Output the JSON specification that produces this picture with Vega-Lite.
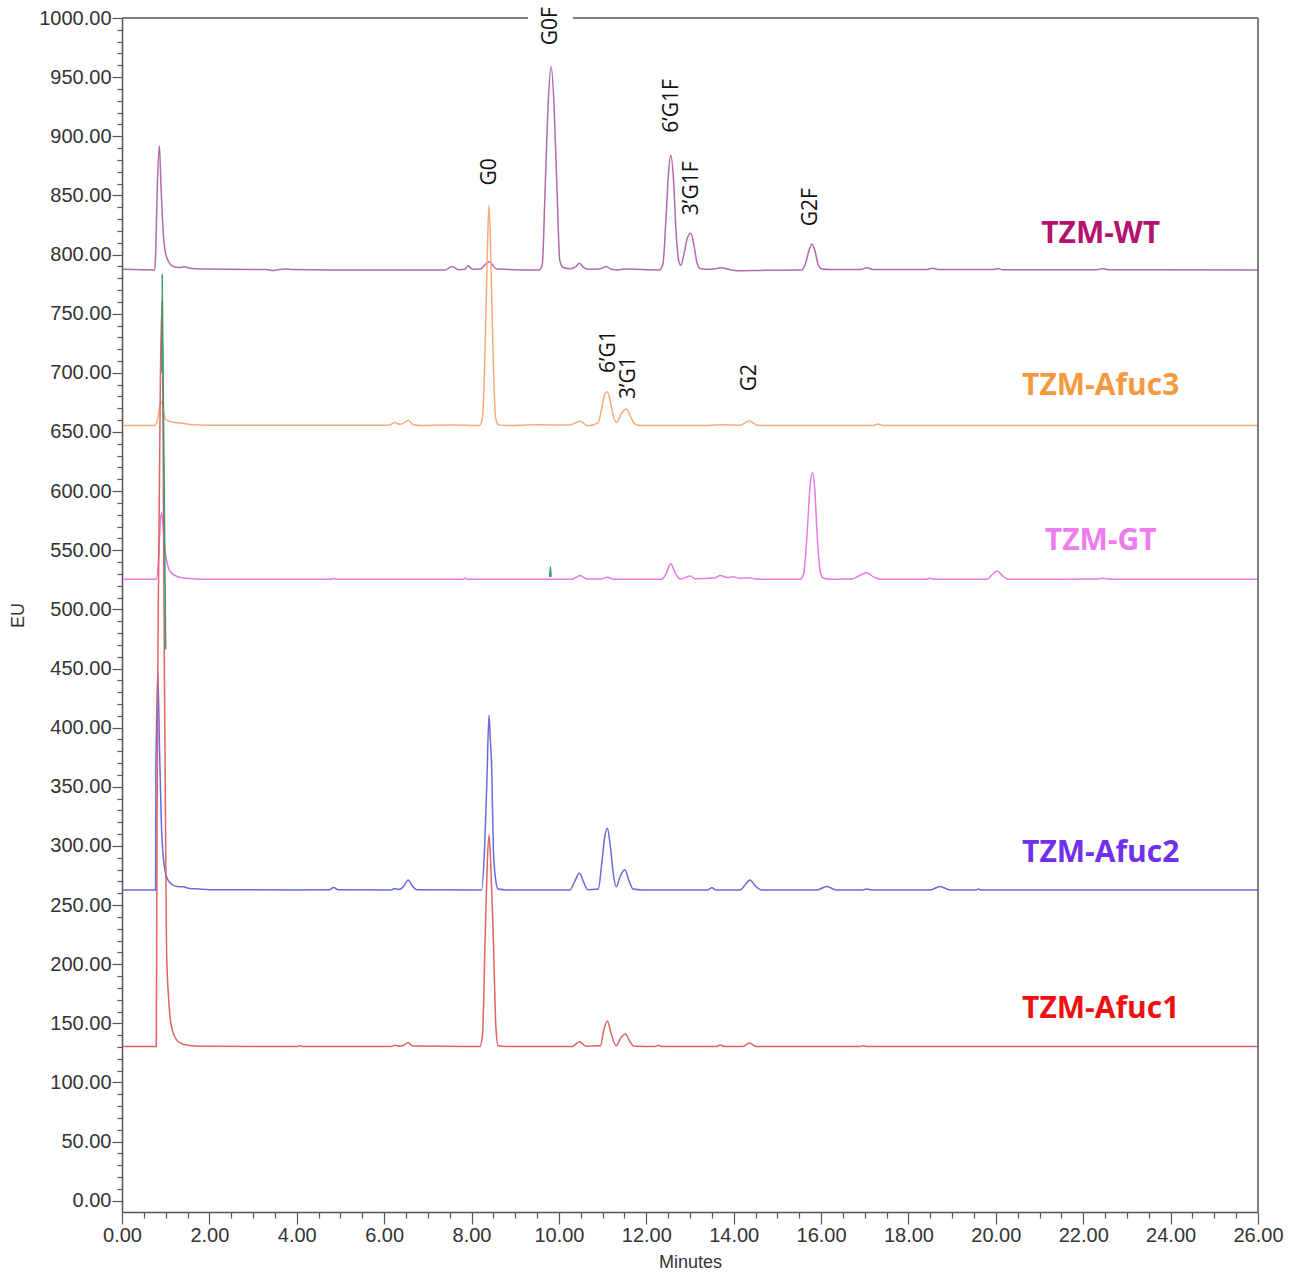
{
  "$schema": "https://vega.github.io/schema/vega-lite/v6.json",
  "width": 1136,
  "height": 1194,
  "autosize": {"type": "none"},
  "padding": {"left": 122, "top": 18, "right": 38, "bottom": 60},
  "background": "white",
  "config": {
    "view": {"stroke": null},
    "axis": {
      "domainColor": "#555555",
      "domainWidth": 1.5,
      "tickColor": "#555555",
      "tickWidth": 1.2,
      "labelColor": "#333333",
      "labelFont": "Liberation Sans",
      "labelFontSize": 20,
      "titleFont": "Liberation Sans",
      "titleFontSize": 18,
      "titleFontWeight": "normal",
      "titleColor": "#333333",
      "grid": false,
      "labelOverlap": false,
      "labelFlush": false
    }
  },
  "datasets": {
    "traces": [
      {"trace":"TZM-WT","t":0.03,"eu":787.5},{"trace":"TZM-WT","t":0.75,"eu":787},{"trace":"TZM-WT","t":0.77,"eu":800},{"trace":"TZM-WT","t":0.81,"eu":860},{"trace":"TZM-WT","t":0.855,"eu":892},{"trace":"TZM-WT","t":0.89,"eu":860},{"trace":"TZM-WT","t":0.945,"eu":818},{"trace":"TZM-WT","t":1.02,"eu":798},{"trace":"TZM-WT","t":1.17,"eu":790},{"trace":"TZM-WT","t":1.3,"eu":789},{"trace":"TZM-WT","t":1.42,"eu":789.6},{"trace":"TZM-WT","t":1.55,"eu":788.5},{"trace":"TZM-WT","t":1.8,"eu":787.8},{"trace":"TZM-WT","t":3.3,"eu":787.4},{"trace":"TZM-WT","t":3.45,"eu":786.5},{"trace":"TZM-WT","t":3.6,"eu":787.4},{"trace":"TZM-WT","t":3.75,"eu":787.8},{"trace":"TZM-WT","t":3.9,"eu":787.3},{"trace":"TZM-WT","t":5.0,"eu":787},{"trace":"TZM-WT","t":7.4,"eu":787},{"trace":"TZM-WT","t":7.55,"eu":789.8},{"trace":"TZM-WT","t":7.7,"eu":787.2},{"trace":"TZM-WT","t":7.85,"eu":787.5},{"trace":"TZM-WT","t":7.92,"eu":790.5},{"trace":"TZM-WT","t":8.02,"eu":787.5},{"trace":"TZM-WT","t":8.2,"eu":787.8},{"trace":"TZM-WT","t":8.4,"eu":794},{"trace":"TZM-WT","t":8.58,"eu":787.8},{"trace":"TZM-WT","t":9.55,"eu":787},{"trace":"TZM-WT","t":9.62,"eu":792},{"trace":"TZM-WT","t":9.68,"eu":850},{"trace":"TZM-WT","t":9.75,"eu":925},{"trace":"TZM-WT","t":9.82,"eu":959},{"trace":"TZM-WT","t":9.89,"eu":925},{"trace":"TZM-WT","t":9.96,"eu":850},{"trace":"TZM-WT","t":10.02,"eu":795},{"trace":"TZM-WT","t":10.1,"eu":789},{"trace":"TZM-WT","t":10.25,"eu":788},{"trace":"TZM-WT","t":10.38,"eu":789.5},{"trace":"TZM-WT","t":10.47,"eu":792.6},{"trace":"TZM-WT","t":10.57,"eu":789},{"trace":"TZM-WT","t":10.7,"eu":787.5},{"trace":"TZM-WT","t":10.95,"eu":788},{"trace":"TZM-WT","t":11.09,"eu":789.8},{"trace":"TZM-WT","t":11.2,"eu":787.5},{"trace":"TZM-WT","t":11.35,"eu":787},{"trace":"TZM-WT","t":11.5,"eu":787.8},{"trace":"TZM-WT","t":12.3,"eu":787},{"trace":"TZM-WT","t":12.38,"eu":792},{"trace":"TZM-WT","t":12.45,"eu":830},{"trace":"TZM-WT","t":12.51,"eu":870},{"trace":"TZM-WT","t":12.56,"eu":884},{"trace":"TZM-WT","t":12.62,"eu":865},{"trace":"TZM-WT","t":12.68,"eu":820},{"trace":"TZM-WT","t":12.74,"eu":795},{"trace":"TZM-WT","t":12.79,"eu":791},{"trace":"TZM-WT","t":12.86,"eu":800},{"trace":"TZM-WT","t":12.94,"eu":814},{"trace":"TZM-WT","t":13.02,"eu":818},{"trace":"TZM-WT","t":13.09,"eu":808},{"trace":"TZM-WT","t":13.16,"eu":793},{"trace":"TZM-WT","t":13.24,"eu":788},{"trace":"TZM-WT","t":13.5,"eu":787.5},{"trace":"TZM-WT","t":13.72,"eu":788.8},{"trace":"TZM-WT","t":13.9,"eu":787.3},{"trace":"TZM-WT","t":14.1,"eu":786.4},{"trace":"TZM-WT","t":14.6,"eu":786.6},{"trace":"TZM-WT","t":15.4,"eu":787},{"trace":"TZM-WT","t":15.55,"eu":787},{"trace":"TZM-WT","t":15.64,"eu":792},{"trace":"TZM-WT","t":15.72,"eu":803},{"trace":"TZM-WT","t":15.79,"eu":809},{"trace":"TZM-WT","t":15.86,"eu":803},{"trace":"TZM-WT","t":15.93,"eu":792},{"trace":"TZM-WT","t":16.0,"eu":788},{"trace":"TZM-WT","t":16.2,"eu":787.3},{"trace":"TZM-WT","t":16.9,"eu":787.4},{"trace":"TZM-WT","t":17.05,"eu":788.8},{"trace":"TZM-WT","t":17.2,"eu":787.3},{"trace":"TZM-WT","t":18.4,"eu":787.3},{"trace":"TZM-WT","t":18.55,"eu":788.4},{"trace":"TZM-WT","t":18.7,"eu":787.3},{"trace":"TZM-WT","t":19.95,"eu":787.3},{"trace":"TZM-WT","t":20.05,"eu":788.2},{"trace":"TZM-WT","t":20.15,"eu":787.2},{"trace":"TZM-WT","t":22.3,"eu":787.2},{"trace":"TZM-WT","t":22.45,"eu":788},{"trace":"TZM-WT","t":22.6,"eu":787.1},{"trace":"TZM-WT","t":26.0,"eu":787},

      {"trace":"TZM-Afuc3","t":0.03,"eu":655.5},{"trace":"TZM-Afuc3","t":0.755,"eu":655.5},{"trace":"TZM-Afuc3","t":0.82,"eu":662},{"trace":"TZM-Afuc3","t":0.87,"eu":672},{"trace":"TZM-Afuc3","t":0.91,"eu":676},{"trace":"TZM-Afuc3","t":0.96,"eu":665},{"trace":"TZM-Afuc3","t":1.02,"eu":660},{"trace":"TZM-Afuc3","t":1.15,"eu":658.5},{"trace":"TZM-Afuc3","t":1.33,"eu":657.5},{"trace":"TZM-Afuc3","t":1.6,"eu":656.2},{"trace":"TZM-Afuc3","t":2.3,"eu":655.6},{"trace":"TZM-Afuc3","t":6.1,"eu":655.6},{"trace":"TZM-Afuc3","t":6.25,"eu":658},{"trace":"TZM-Afuc3","t":6.35,"eu":656.5},{"trace":"TZM-Afuc3","t":6.45,"eu":657.5},{"trace":"TZM-Afuc3","t":6.55,"eu":660},{"trace":"TZM-Afuc3","t":6.65,"eu":656.5},{"trace":"TZM-Afuc3","t":6.8,"eu":655.5},{"trace":"TZM-Afuc3","t":7.5,"eu":655.8},{"trace":"TZM-Afuc3","t":8.18,"eu":655.5},{"trace":"TZM-Afuc3","t":8.25,"eu":662},{"trace":"TZM-Afuc3","t":8.31,"eu":720},{"trace":"TZM-Afuc3","t":8.36,"eu":800},{"trace":"TZM-Afuc3","t":8.4,"eu":842},{"trace":"TZM-Afuc3","t":8.44,"eu":800},{"trace":"TZM-Afuc3","t":8.49,"eu":720},{"trace":"TZM-Afuc3","t":8.55,"eu":662},{"trace":"TZM-Afuc3","t":8.62,"eu":656},{"trace":"TZM-Afuc3","t":8.8,"eu":655.5},{"trace":"TZM-Afuc3","t":9.5,"eu":656},{"trace":"TZM-Afuc3","t":10.25,"eu":655.8},{"trace":"TZM-Afuc3","t":10.48,"eu":659},{"trace":"TZM-Afuc3","t":10.67,"eu":655.2},{"trace":"TZM-Afuc3","t":10.9,"eu":658},{"trace":"TZM-Afuc3","t":10.98,"eu":670},{"trace":"TZM-Afuc3","t":11.05,"eu":682},{"trace":"TZM-Afuc3","t":11.11,"eu":684},{"trace":"TZM-Afuc3","t":11.17,"eu":677},{"trace":"TZM-Afuc3","t":11.24,"eu":664},{"trace":"TZM-Afuc3","t":11.32,"eu":658},{"trace":"TZM-Afuc3","t":11.42,"eu":665},{"trace":"TZM-Afuc3","t":11.54,"eu":669.5},{"trace":"TZM-Afuc3","t":11.64,"eu":663},{"trace":"TZM-Afuc3","t":11.72,"eu":657.5},{"trace":"TZM-Afuc3","t":11.85,"eu":655.5},{"trace":"TZM-Afuc3","t":13.2,"eu":655.5},{"trace":"TZM-Afuc3","t":13.8,"eu":656},{"trace":"TZM-Afuc3","t":14.15,"eu":655.6},{"trace":"TZM-Afuc3","t":14.35,"eu":659.3},{"trace":"TZM-Afuc3","t":14.55,"eu":655.6},{"trace":"TZM-Afuc3","t":15.0,"eu":655.4},{"trace":"TZM-Afuc3","t":17.2,"eu":655.5},{"trace":"TZM-Afuc3","t":17.3,"eu":656.8},{"trace":"TZM-Afuc3","t":17.4,"eu":655.5},{"trace":"TZM-Afuc3","t":26.0,"eu":655.4},

      {"trace":"TZM-GT","t":0.03,"eu":525.5},{"trace":"TZM-GT","t":0.79,"eu":525.5},{"trace":"TZM-GT","t":0.84,"eu":545},{"trace":"TZM-GT","t":0.88,"eu":575},{"trace":"TZM-GT","t":0.91,"eu":581.6},{"trace":"TZM-GT","t":0.95,"eu":565},{"trace":"TZM-GT","t":0.985,"eu":550},{"trace":"TZM-GT","t":1.04,"eu":538},{"trace":"TZM-GT","t":1.1,"eu":532},{"trace":"TZM-GT","t":1.25,"eu":528},{"trace":"TZM-GT","t":1.4,"eu":526.6},{"trace":"TZM-GT","t":1.6,"eu":526},{"trace":"TZM-GT","t":2.0,"eu":525.5},{"trace":"TZM-GT","t":4.8,"eu":525.4},{"trace":"TZM-GT","t":4.85,"eu":526.3},{"trace":"TZM-GT","t":4.9,"eu":525.4},{"trace":"TZM-GT","t":7.8,"eu":525.5},{"trace":"TZM-GT","t":7.85,"eu":526.5},{"trace":"TZM-GT","t":7.9,"eu":525.5},{"trace":"TZM-GT","t":10.3,"eu":525.5},{"trace":"TZM-GT","t":10.48,"eu":528.6},{"trace":"TZM-GT","t":10.65,"eu":525.6},{"trace":"TZM-GT","t":10.95,"eu":525.6},{"trace":"TZM-GT","t":11.11,"eu":527.2},{"trace":"TZM-GT","t":11.25,"eu":525.5},{"trace":"TZM-GT","t":12.35,"eu":525.5},{"trace":"TZM-GT","t":12.45,"eu":530},{"trace":"TZM-GT","t":12.56,"eu":538.5},{"trace":"TZM-GT","t":12.67,"eu":530},{"trace":"TZM-GT","t":12.78,"eu":525.6},{"trace":"TZM-GT","t":12.9,"eu":527},{"trace":"TZM-GT","t":13.0,"eu":528.3},{"trace":"TZM-GT","t":13.12,"eu":526},{"trace":"TZM-GT","t":13.55,"eu":526.5},{"trace":"TZM-GT","t":13.7,"eu":528.6},{"trace":"TZM-GT","t":13.85,"eu":527},{"trace":"TZM-GT","t":13.98,"eu":527.5},{"trace":"TZM-GT","t":14.15,"eu":526.2},{"trace":"TZM-GT","t":14.35,"eu":526.8},{"trace":"TZM-GT","t":14.5,"eu":525.6},{"trace":"TZM-GT","t":15.52,"eu":525.5},{"trace":"TZM-GT","t":15.6,"eu":530},{"trace":"TZM-GT","t":15.69,"eu":570},{"trace":"TZM-GT","t":15.75,"eu":605},{"trace":"TZM-GT","t":15.8,"eu":615.7},{"trace":"TZM-GT","t":15.85,"eu":605},{"trace":"TZM-GT","t":15.9,"eu":570},{"trace":"TZM-GT","t":15.98,"eu":532},{"trace":"TZM-GT","t":16.05,"eu":526.5},{"trace":"TZM-GT","t":16.2,"eu":525.5},{"trace":"TZM-GT","t":16.7,"eu":525.6},{"trace":"TZM-GT","t":16.85,"eu":528},{"trace":"TZM-GT","t":17.04,"eu":531},{"trace":"TZM-GT","t":17.2,"eu":527.5},{"trace":"TZM-GT","t":17.35,"eu":525.5},{"trace":"TZM-GT","t":18.4,"eu":525.5},{"trace":"TZM-GT","t":18.5,"eu":526.3},{"trace":"TZM-GT","t":18.6,"eu":525.5},{"trace":"TZM-GT","t":19.8,"eu":525.5},{"trace":"TZM-GT","t":19.92,"eu":529.5},{"trace":"TZM-GT","t":20.03,"eu":532.5},{"trace":"TZM-GT","t":20.15,"eu":528.5},{"trace":"TZM-GT","t":20.28,"eu":525.5},{"trace":"TZM-GT","t":22.3,"eu":525.6},{"trace":"TZM-GT","t":22.45,"eu":526.3},{"trace":"TZM-GT","t":22.6,"eu":525.5},{"trace":"TZM-GT","t":26.0,"eu":525.4},

      {"trace":"TZM-Afuc2","t":0.03,"eu":262.8},{"trace":"TZM-Afuc2","t":0.77,"eu":262.8},{"trace":"TZM-Afuc2","t":0.775,"eu":357},{"trace":"TZM-Afuc2","t":0.79,"eu":400},{"trace":"TZM-Afuc2","t":0.82,"eu":447},{"trace":"TZM-Afuc2","t":0.86,"eu":380},{"trace":"TZM-Afuc2","t":0.9,"eu":320},{"trace":"TZM-Afuc2","t":0.96,"eu":285},{"trace":"TZM-Afuc2","t":1.02,"eu":274},{"trace":"TZM-Afuc2","t":1.12,"eu":268},{"trace":"TZM-Afuc2","t":1.25,"eu":265.7},{"trace":"TZM-Afuc2","t":1.4,"eu":265.4},{"trace":"TZM-Afuc2","t":1.55,"eu":264},{"trace":"TZM-Afuc2","t":1.71,"eu":263.7},{"trace":"TZM-Afuc2","t":2.0,"eu":263},{"trace":"TZM-Afuc2","t":4.0,"eu":262.8},{"trace":"TZM-Afuc2","t":4.75,"eu":263},{"trace":"TZM-Afuc2","t":4.84,"eu":264.9},{"trace":"TZM-Afuc2","t":4.95,"eu":263},{"trace":"TZM-Afuc2","t":6.15,"eu":262.8},{"trace":"TZM-Afuc2","t":6.25,"eu":264},{"trace":"TZM-Afuc2","t":6.33,"eu":263.2},{"trace":"TZM-Afuc2","t":6.45,"eu":266},{"trace":"TZM-Afuc2","t":6.55,"eu":271.3},{"trace":"TZM-Afuc2","t":6.65,"eu":266},{"trace":"TZM-Afuc2","t":6.75,"eu":263},{"trace":"TZM-Afuc2","t":8.23,"eu":262.8},{"trace":"TZM-Afuc2","t":8.3,"eu":300},{"trace":"TZM-Afuc2","t":8.35,"eu":353},{"trace":"TZM-Afuc2","t":8.4,"eu":410.8},{"trace":"TZM-Afuc2","t":8.43,"eu":390},{"trace":"TZM-Afuc2","t":8.46,"eu":368.6},{"trace":"TZM-Afuc2","t":8.5,"eu":296.7},{"trace":"TZM-Afuc2","t":8.55,"eu":272},{"trace":"TZM-Afuc2","t":8.61,"eu":263.5},{"trace":"TZM-Afuc2","t":8.8,"eu":262.8},{"trace":"TZM-Afuc2","t":10.25,"eu":262.8},{"trace":"TZM-Afuc2","t":10.36,"eu":270},{"trace":"TZM-Afuc2","t":10.47,"eu":277},{"trace":"TZM-Afuc2","t":10.57,"eu":269},{"trace":"TZM-Afuc2","t":10.66,"eu":263},{"trace":"TZM-Afuc2","t":10.9,"eu":263.5},{"trace":"TZM-Afuc2","t":10.98,"eu":285},{"trace":"TZM-Afuc2","t":11.05,"eu":308},{"trace":"TZM-Afuc2","t":11.11,"eu":315},{"trace":"TZM-Afuc2","t":11.17,"eu":302},{"trace":"TZM-Afuc2","t":11.25,"eu":275},{"trace":"TZM-Afuc2","t":11.31,"eu":265.5},{"trace":"TZM-Afuc2","t":11.41,"eu":275},{"trace":"TZM-Afuc2","t":11.51,"eu":279.8},{"trace":"TZM-Afuc2","t":11.6,"eu":271},{"trace":"TZM-Afuc2","t":11.7,"eu":263.5},{"trace":"TZM-Afuc2","t":11.9,"eu":262.8},{"trace":"TZM-Afuc2","t":13.4,"eu":262.8},{"trace":"TZM-Afuc2","t":13.5,"eu":264.6},{"trace":"TZM-Afuc2","t":13.6,"eu":262.8},{"trace":"TZM-Afuc2","t":14.15,"eu":262.8},{"trace":"TZM-Afuc2","t":14.26,"eu":267},{"trace":"TZM-Afuc2","t":14.37,"eu":271.3},{"trace":"TZM-Afuc2","t":14.5,"eu":266},{"trace":"TZM-Afuc2","t":14.64,"eu":262.8},{"trace":"TZM-Afuc2","t":15.9,"eu":262.8},{"trace":"TZM-Afuc2","t":16.13,"eu":265.7},{"trace":"TZM-Afuc2","t":16.35,"eu":262.8},{"trace":"TZM-Afuc2","t":16.95,"eu":262.8},{"trace":"TZM-Afuc2","t":17.04,"eu":263.5},{"trace":"TZM-Afuc2","t":17.15,"eu":262.8},{"trace":"TZM-Afuc2","t":18.5,"eu":262.8},{"trace":"TZM-Afuc2","t":18.72,"eu":265.7},{"trace":"TZM-Afuc2","t":18.95,"eu":262.8},{"trace":"TZM-Afuc2","t":19.55,"eu":262.8},{"trace":"TZM-Afuc2","t":19.6,"eu":263.6},{"trace":"TZM-Afuc2","t":19.65,"eu":262.8},{"trace":"TZM-Afuc2","t":26.0,"eu":262.8},

      {"trace":"TZM-Afuc1","t":0.03,"eu":130.4},{"trace":"TZM-Afuc1","t":0.785,"eu":130.4},{"trace":"TZM-Afuc1","t":0.8,"eu":300},{"trace":"TZM-Afuc1","t":0.83,"eu":500},{"trace":"TZM-Afuc1","t":0.88,"eu":700},{"trace":"TZM-Afuc1","t":0.915,"eu":760},{"trace":"TZM-Afuc1","t":0.94,"eu":650},{"trace":"TZM-Afuc1","t":0.97,"eu":450},{"trace":"TZM-Afuc1","t":1.0,"eu":300},{"trace":"TZM-Afuc1","t":1.02,"eu":212},{"trace":"TZM-Afuc1","t":1.06,"eu":175},{"trace":"TZM-Afuc1","t":1.1,"eu":155},{"trace":"TZM-Afuc1","t":1.17,"eu":142},{"trace":"TZM-Afuc1","t":1.25,"eu":136},{"trace":"TZM-Afuc1","t":1.35,"eu":133},{"trace":"TZM-Afuc1","t":1.5,"eu":131.5},{"trace":"TZM-Afuc1","t":1.8,"eu":130.6},{"trace":"TZM-Afuc1","t":4.0,"eu":130.4},{"trace":"TZM-Afuc1","t":4.07,"eu":131},{"trace":"TZM-Afuc1","t":4.15,"eu":130.4},{"trace":"TZM-Afuc1","t":6.15,"eu":130.4},{"trace":"TZM-Afuc1","t":6.25,"eu":131.5},{"trace":"TZM-Afuc1","t":6.35,"eu":130.6},{"trace":"TZM-Afuc1","t":6.45,"eu":131.5},{"trace":"TZM-Afuc1","t":6.55,"eu":133.8},{"trace":"TZM-Afuc1","t":6.65,"eu":130.8},{"trace":"TZM-Afuc1","t":8.19,"eu":130.4},{"trace":"TZM-Afuc1","t":8.25,"eu":140},{"trace":"TZM-Afuc1","t":8.31,"eu":220},{"trace":"TZM-Afuc1","t":8.36,"eu":285},{"trace":"TZM-Afuc1","t":8.4,"eu":309.4},{"trace":"TZM-Afuc1","t":8.44,"eu":285},{"trace":"TZM-Afuc1","t":8.5,"eu":220},{"trace":"TZM-Afuc1","t":8.56,"eu":145},{"trace":"TZM-Afuc1","t":8.61,"eu":131},{"trace":"TZM-Afuc1","t":8.8,"eu":130.4},{"trace":"TZM-Afuc1","t":10.3,"eu":130.4},{"trace":"TZM-Afuc1","t":10.47,"eu":134.4},{"trace":"TZM-Afuc1","t":10.62,"eu":130.6},{"trace":"TZM-Afuc1","t":10.95,"eu":131},{"trace":"TZM-Afuc1","t":11.03,"eu":145},{"trace":"TZM-Afuc1","t":11.11,"eu":152},{"trace":"TZM-Afuc1","t":11.19,"eu":142},{"trace":"TZM-Afuc1","t":11.31,"eu":131},{"trace":"TZM-Afuc1","t":11.42,"eu":138},{"trace":"TZM-Afuc1","t":11.52,"eu":141},{"trace":"TZM-Afuc1","t":11.62,"eu":135},{"trace":"TZM-Afuc1","t":11.72,"eu":130.6},{"trace":"TZM-Afuc1","t":12.2,"eu":130.4},{"trace":"TZM-Afuc1","t":12.27,"eu":131.5},{"trace":"TZM-Afuc1","t":12.35,"eu":130.4},{"trace":"TZM-Afuc1","t":13.6,"eu":130.4},{"trace":"TZM-Afuc1","t":13.69,"eu":131.7},{"trace":"TZM-Afuc1","t":13.78,"eu":130.4},{"trace":"TZM-Afuc1","t":14.2,"eu":130.4},{"trace":"TZM-Afuc1","t":14.36,"eu":133.3},{"trace":"TZM-Afuc1","t":14.52,"eu":130.4},{"trace":"TZM-Afuc1","t":16.9,"eu":130.4},{"trace":"TZM-Afuc1","t":16.96,"eu":131},{"trace":"TZM-Afuc1","t":17.05,"eu":130.4},{"trace":"TZM-Afuc1","t":26.0,"eu":130.4},

      {"trace":"spike-a","t":0.915,"eu":700},{"trace":"spike-a","t":0.92,"eu":783},{"trace":"spike-a","t":1.0,"eu":466},
      {"trace":"spike-b","t":9.79,"eu":527.5},{"trace":"spike-b","t":9.805,"eu":536},{"trace":"spike-b","t":9.82,"eu":527.5}
    ],
    "peaks": [
      {"label":"G0F","t":9.82,"eu":993},
      {"label":"G0","t":8.42,"eu":870},
      {"label":"6’G1F","t":12.59,"eu":925.6},
      {"label":"3’G1F","t":13.04,"eu":856},
      {"label":"G2F","t":15.77,"eu":840},
      {"label":"6’G1","t":11.15,"eu":718},
      {"label":"3’G1","t":11.6,"eu":696},
      {"label":"G2","t":14.37,"eu":696}
    ],
    "names": [
      {"trace":"TZM-WT","t":22.4,"eu":817},
      {"trace":"TZM-Afuc3","t":22.4,"eu":689},
      {"trace":"TZM-GT","t":22.4,"eu":558},
      {"trace":"TZM-Afuc2","t":22.4,"eu":294},
      {"trace":"TZM-Afuc1","t":22.4,"eu":162}
    ]
  },
  "layer": [
    {
      "data": {"name": "traces"},
      "mark": {"type": "line", "interpolate": "monotone", "strokeWidth": 1.5, "clip": true},
      "encoding": {
        "x": {
          "field": "t", "type": "quantitative",
          "scale": {"domain": [0, 26], "nice": false, "zero": false},
          "axis": {
            "title": "Minutes",
            "values": [0,0.5,1,1.5,2,2.5,3,3.5,4,4.5,5,5.5,6,6.5,7,7.5,8,8.5,9,9.5,10,10.5,11,11.5,12,12.5,13,13.5,14,14.5,15,15.5,16,16.5,17,17.5,18,18.5,19,19.5,20,20.5,21,21.5,22,22.5,23,23.5,24,24.5,25,25.5,26],
            "labelExpr": "datum.value % 2 === 0 ? format(datum.value, '.2f') : ''",
            "tickSize": {"condition": {"test": "datum.value % 2 === 0", "value": 12}, "value": 6},
            "labelPadding": 1,
            "titleX": 568,
            "titleY": 50,
            "titleAlign": "center",
            "titleBaseline": "middle"
          }
        },
        "y": {
          "field": "eu", "type": "quantitative",
          "scale": {"domain": [-9.5, 1000], "nice": false, "zero": false},
          "axis": {
            "title": "EU",
            "values": [0,10,20,30,40,50,60,70,80,90,100,110,120,130,140,150,160,170,180,190,200,210,220,230,240,250,260,270,280,290,300,310,320,330,340,350,360,370,380,390,400,410,420,430,440,450,460,470,480,490,500,510,520,530,540,550,560,570,580,590,600,610,620,630,640,650,660,670,680,690,700,710,720,730,740,750,760,770,780,790,800,810,820,830,840,850,860,870,880,890,900,910,920,930,940,950,960,970,980,990,1000],
            "labelExpr": "datum.value % 50 === 0 ? format(datum.value, '.2f') : ''",
            "tickSize": {"condition": {"test": "datum.value % 50 === 0", "value": 10}, "value": 5},
            "labelPadding": 1,
            "titleX": -104,
            "titleY": 597,
            "titleAlign": "center",
            "titleBaseline": "middle"
          }
        },
        "color": {
          "field": "trace", "type": "nominal",
          "scale": {
            "domain": ["TZM-WT", "TZM-Afuc3", "TZM-GT", "TZM-Afuc2", "TZM-Afuc1", "spike-a", "spike-b"],
            "range": ["#B46AAE", "#F4AC7C", "#E87AE8", "#6A6AE0", "#E06464", "#3E9A6C", "#3E9A6C"]
          },
          "legend": null
        },
        "order": {"field": "t", "type": "quantitative"}
      }
    },
    {
      "data": {"values": [{}]},
      "mark": {"type": "rule", "color": "#555555", "strokeWidth": 1.5},
      "encoding": {"x": {"datum": 0, "type": "quantitative", "axis": null}, "x2": {"datum": 9.29}, "y": {"datum": 1000, "type": "quantitative", "axis": null}}
    },
    {
      "data": {"values": [{}]},
      "mark": {"type": "rule", "color": "#555555", "strokeWidth": 1.5},
      "encoding": {"x": {"datum": 10.32, "type": "quantitative", "axis": null}, "x2": {"datum": 26}, "y": {"datum": 1000, "type": "quantitative", "axis": null}}
    },
    {
      "data": {"values": [{}]},
      "mark": {"type": "rule", "color": "#555555", "strokeWidth": 1.5},
      "encoding": {"x": {"datum": 26, "type": "quantitative", "axis": null}, "y": {"datum": -9.5, "type": "quantitative", "axis": null}, "y2": {"datum": 1000}}
    },
    {
      "data": {"name": "peaks"},
      "mark": {"type": "text", "angle": 270, "align": "center", "baseline": "middle", "font": "Open Sans", "fontSize": 21, "color": "#111111"},
      "encoding": {
        "x": {"field": "t", "type": "quantitative", "axis": null},
        "y": {"field": "eu", "type": "quantitative", "axis": null},
        "text": {"field": "label"}
      }
    },
    {
      "data": {"name": "names"},
      "mark": {"type": "text", "align": "center", "baseline": "middle", "font": "Open Sans", "fontWeight": "bold", "fontSize": 30},
      "encoding": {
        "x": {"field": "t", "type": "quantitative", "axis": null},
        "y": {"field": "eu", "type": "quantitative", "axis": null},
        "text": {"field": "trace"},
        "color": {
          "field": "trace", "type": "nominal",
          "scale": {
            "domain": ["TZM-WT", "TZM-Afuc3", "TZM-GT", "TZM-Afuc2", "TZM-Afuc1"],
            "range": ["#B3136E", "#F39A3E", "#EF7CEF", "#7030EE", "#EE1111"]
          },
          "legend": null
        }
      }
    }
  ],
  "resolve": {"scale": {"color": "independent"}, "axis": {"x": "independent", "y": "independent"}}
}
